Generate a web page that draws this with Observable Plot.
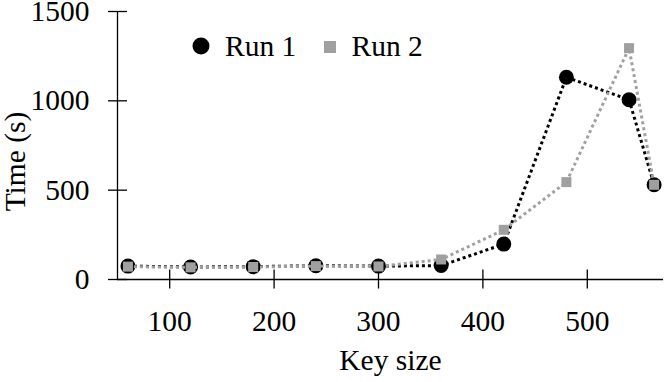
<!DOCTYPE html>
<html>
<head>
<meta charset="utf-8">
<script src="https://cdn.jsdelivr.net/npm/d3@7"></script>
<script src="https://cdn.jsdelivr.net/npm/@observablehq/plot@0.6"></script>
<style>
  html, body { margin: 0; padding: 0; background: #fff; font-family: "Liberation Serif", serif; }
  #wrap { position: relative; width: 664px; height: 382px; overflow: hidden; }
  #legend { position: absolute; left: 0; top: 0; pointer-events: none; }
  #wrap svg, #wrap svg text { font-family: "Liberation Serif", serif !important; }
</style>
</head>
<body>
<div id="wrap"><div id="chart"></div></div>
<script>
// ---- data ----
const keySizes = [60, 120, 180, 240, 300, 360, 420, 480, 540, 564];
const run1 = [75, 70, 72, 77, 75, 78, 198, 1132, 1006, 530];
const run2 = [72, 68, 70, 75, 73, 112, 278, 545, 1295, 530];
const seriesNames = ["Run 1", "Run 2"];
const xTicks = [100, 200, 300, 400, 500];
const yTicks = [0, 500, 1000, 1500];
const xLabel = "Key size";
const yLabel = "Time (s)";

const rows1 = keySizes.map((k, i) => ({key: k, time: run1[i]}));
const rows2 = keySizes.map((k, i) => ({key: k, time: run2[i]}));

const FONT = "Liberation Serif";
const GREY = "#a0a0a0";
const lineStyle = {strokeWidth: 3, strokeDasharray: "3 3", strokeLinecap: "butt", strokeLinejoin: "miter"};

const chart = Plot.plot({
  width: 664,
  height: 382,
  marginLeft: 117,
  marginRight: 1,
  marginTop: 11,
  marginBottom: 103,
  style: {fontFamily: FONT, fontSize: "29.5px", background: "#fff", color: "#000", overflow: "visible"},
  x: {domain: [50, 573]},
  y: {domain: [0, 1500]},
  marks: [
    Plot.ruleY([0], {stroke: "#000", strokeWidth: 1.3}),
    Plot.ruleX([50], {stroke: "#000", strokeWidth: 1.3}),
    Plot.axisX({ticks: xTicks, tickSize: 19, dy: -9.5, tickPadding: 21, strokeWidth: 1.3, label: null, tickFormat: d => String(d)}),
    Plot.axisY({ticks: yTicks, tickSize: 19, dx: 10, tickPadding: 19, strokeWidth: 1.3, label: null, tickFormat: d => String(d)}),
    Plot.line(rows1, {x: "key", y: "time", stroke: "#000", ...lineStyle}),
    Plot.dot(rows1, {x: "key", y: "time", r: 7.5, fill: "#000", symbol: "circle"}),
    Plot.line(rows2, {x: "key", y: "time", stroke: GREY, ...lineStyle}),
    Plot.dot(rows2, {x: "key", y: "time", r: 5.64, fill: GREY, symbol: "square"}),
    Plot.text([xLabel], {text: d => d, frameAnchor: "bottom", textAnchor: "middle", lineAnchor: "bottom", dy: 90, fill: "#000"}),
    Plot.text([yLabel], {text: d => d, frameAnchor: "left", textAnchor: "middle", rotate: -90, lineAnchor: "bottom", dx: -93, dy: 16, fill: "#000"})
  ]
});
document.getElementById("chart").appendChild(chart);

// ---- legend (overlay) ----
const legendLayout = [
  {symbol: "circle", color: "#000", cx: 201, cy: 46, size: 8.5, tx: 225},
  {symbol: "square", color: GREY, cx: 330, cy: 47, size: 12, tx: 351.5}
];
const ns = "http://www.w3.org/2000/svg";
const leg = document.createElementNS(ns, "svg");
leg.setAttribute("id", "legend");
leg.setAttribute("width", 664);
leg.setAttribute("height", 382);
seriesNames.forEach((name, i) => {
  const L = legendLayout[i];
  let m;
  if (L.symbol === "circle") {
    m = document.createElementNS(ns, "circle");
    m.setAttribute("cx", L.cx); m.setAttribute("cy", L.cy); m.setAttribute("r", L.size);
  } else {
    m = document.createElementNS(ns, "rect");
    m.setAttribute("x", L.cx - L.size / 2); m.setAttribute("y", L.cy - L.size / 2);
    m.setAttribute("width", L.size); m.setAttribute("height", L.size);
  }
  m.setAttribute("fill", L.color);
  leg.appendChild(m);
  const t = document.createElementNS(ns, "text");
  t.setAttribute("x", L.tx); t.setAttribute("y", 56);
  t.setAttribute("font-family", FONT); t.setAttribute("font-size", "29.5px");
  t.setAttribute("fill", "#000");
  t.textContent = name;
  leg.appendChild(t);
});
document.getElementById("wrap").appendChild(leg);
</script>
</body>
</html>
